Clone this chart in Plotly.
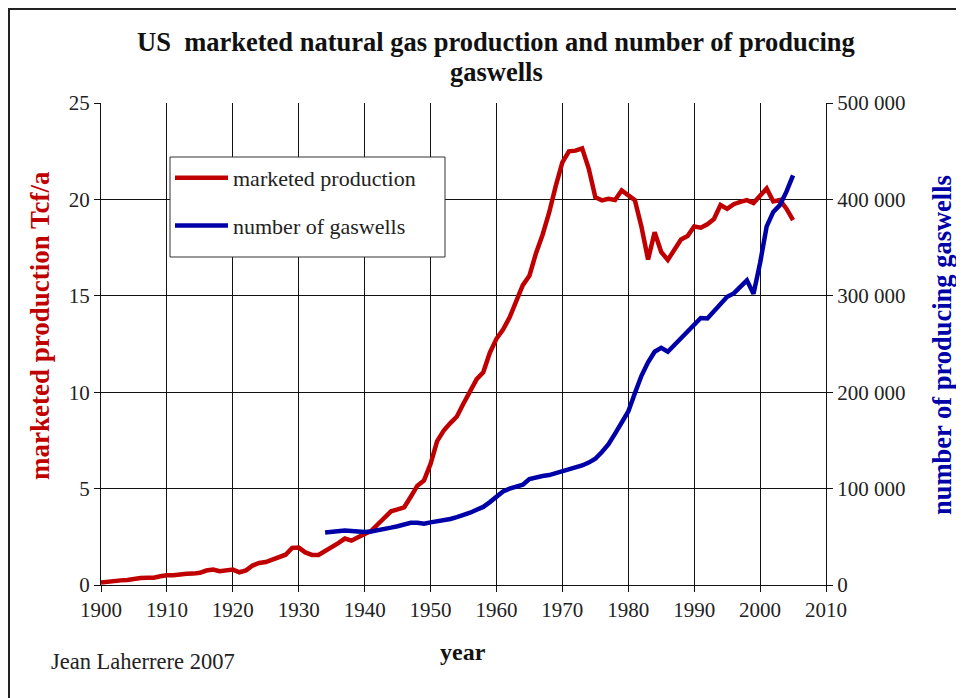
import plotly.graph_objects as go

# ---------------- data ----------------
prod_years = list(range(1900, 2006))
production = [0.13, 0.18, 0.20, 0.24, 0.26, 0.33, 0.36, 0.37, 0.38, 0.45,
              0.51, 0.51, 0.56, 0.58, 0.59, 0.63, 0.75, 0.80, 0.72, 0.75,
              0.80, 0.66, 0.76, 1.01, 1.14, 1.19, 1.31, 1.45, 1.57, 1.92,
              1.94, 1.69, 1.56, 1.56, 1.77, 1.92, 2.17, 2.41, 2.30, 2.48,
              2.66, 2.81, 3.15, 3.52, 3.82, 3.92, 4.03, 4.58, 5.15, 5.42,
              6.28, 7.46, 8.01, 8.40, 8.74, 9.41, 10.08, 10.68, 11.03, 12.05,
              12.77, 13.25, 13.88, 14.75, 15.55, 16.04, 17.21, 18.17, 19.32, 20.70,
              21.92, 22.49, 22.53, 22.65, 21.60, 20.11, 19.95, 20.03, 19.97, 20.47,
              20.18, 19.96, 18.58, 16.88, 18.30, 17.27, 16.86, 17.43, 17.92, 18.10,
              18.59, 18.53, 18.71, 18.98, 19.71, 19.51, 19.75, 19.87, 19.96, 19.81,
              20.20, 20.57, 19.89, 19.97, 19.52, 18.93]

well_years = list(range(1934, 2006))
gaswells = [54500, 55500, 56000, 56500, 56000, 55000, 55000, 55500, 56500, 58000,
            59500, 61000, 63000, 64500, 64500, 63500, 65000, 66000, 67000, 68500,
            70500, 72500, 75000, 78000, 81000, 86000, 92000, 97000, 100000, 102000,
            104000, 110000, 112000, 113000, 114000, 116000, 118500, 120000, 121500, 124000,
            127000, 131000, 138000, 146000, 157000, 168000, 180000, 199000, 217000, 231000,
            242000, 246000, 242000, 249000, 256000, 264000, 271000, 277000, 276500, 283500,
            291000, 299000, 302500, 309000, 316000, 302000, 334000, 372000, 387000, 394000,
            408000, 425000]

x_ticks = list(range(1900, 2011, 10))
left_ticks = [0, 5, 10, 15, 20, 25]
right_ticks = [0, 100000, 200000, 300000, 400000, 500000]
right_tick_labels = ["0", "100 000", "200 000", "300 000", "400 000", "500 000"]

RED = "#C00000"
BLUE = "#0000A8"
FONT = "Liberation Serif"

# ---------------- geometry (page pixels; page body has an 8px margin) ----------------
OFF = 8
W, H = 964 - OFF, 698 - OFF
L, R, T, B = 101 - OFF, 826 - OFF, 103 - OFF, 585 - OFF


def px_x(p):
    return (p - OFF - L) / (R - L)


def px_y(p):
    return (B - (p - OFF)) / (B - T)


fig = go.Figure()
fig.add_trace(go.Scatter(x=prod_years, y=production, mode="lines",
                         name="marketed production", legendgroup="a",
                         line=dict(color=RED, width=4.5)))
fig.add_trace(go.Scatter(x=well_years, y=gaswells, mode="lines",
                         name="number of gaswells", legendgroup="b",
                         line=dict(color=BLUE, width=4.5), yaxis="y2"))

axis_font = dict(family=FONT, size=21, color="#222222")

fig.update_layout(
    width=W, height=H,
    margin=dict(l=L, r=W - R, t=T, b=H - B, pad=0),
    paper_bgcolor="white", plot_bgcolor="white",
    font=dict(family=FONT, color="#222222"),
    showlegend=True,
    legend=dict(x=px_x(170), y=px_y(157), xanchor="left", yanchor="top",
                bgcolor="rgba(0,0,0,0)", borderwidth=0,
                font=dict(family=FONT, size=22, color="#222222"),
                tracegroupgap=16, itemwidth=53),
    xaxis=dict(range=[1900, 2010], tickvals=x_ticks, ticktext=[str(v) for v in x_ticks],
               showgrid=True, gridcolor="#111111", gridwidth=1,
               showline=True, linecolor="#111111", linewidth=1,
               ticks="outside", ticklen=6, tickcolor="#111111",
               tickfont=axis_font, zeroline=False),
    yaxis=dict(range=[0, 25], tickvals=left_ticks,
               showgrid=True, gridcolor="#111111", gridwidth=1,
               showline=True, linecolor="#111111", linewidth=1,
               ticks="outside", ticklen=6, tickcolor="#111111",
               tickfont=axis_font, zeroline=False),
    yaxis2=dict(range=[0, 500000], tickvals=right_ticks, ticktext=right_tick_labels,
                overlaying="y", side="right", showgrid=False,
                showline=True, linecolor="#111111", linewidth=1,
                ticks="outside", ticklen=6, tickcolor="#111111",
                tickfont=axis_font, zeroline=False),
)

# outer frame
fig.add_shape(type="rect", xref="paper", yref="paper",
              x0=px_x(9), x1=px_x(990), y0=px_y(720), y1=px_y(9),
              line=dict(color="#222222", width=2), fillcolor="rgba(0,0,0,0)",
              layer="below")
# legend box
fig.add_shape(type="rect", xref="paper", yref="paper",
              x0=px_x(170), x1=px_x(445), y0=px_y(257), y1=px_y(157),
              line=dict(color="#333333", width=1), fillcolor="white",
              layer="above")


def note(text, x, y, size, color, bold=False, angle=0, xanchor="center"):
    return dict(text=("<b>%s</b>" % text) if bold else text,
                x=px_x(x), y=px_y(y), xref="paper", yref="paper",
                xanchor=xanchor, yanchor="middle", textangle=angle,
                showarrow=False, font=dict(family=FONT, size=size, color=color))


ann = [
    note("US  marketed natural gas production and number of producing", 496, 42, 26.5, "#111111", True),
    note("gaswells", 496, 72, 26.5, "#111111", True),
    note("marketed production Tcf/a", 40, 326, 27, RED, True, -90),
    note("number of producing gaswells", 942, 345, 26.5, BLUE, True, -90),
    note("year", 463, 652, 24, "#111111", True),
    note("Jean Laherrere 2007", 49, 661, 22.5, "#222222", False, 0, "left"),
]
fig.update_layout(annotations=ann)

fig.write_html("out.html")
